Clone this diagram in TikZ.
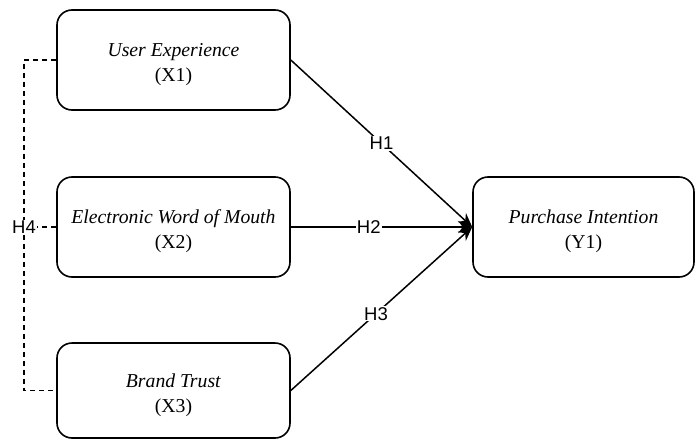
\documentclass[tikz,border=0pt]{standalone}
\usepackage{fontspec}
\setmainfont{Liberation Serif}
\newfontfamily\labelfont{Liberation Sans}
\usetikzlibrary{arrows.meta}
\def\varname#1#2{\rule{0pt}{23pt}\textit{#1}\\(#2)}
\tikzset{
	varbox/.style={draw, line width=1.6pt, rounded corners=15pt, minimum width=233pt, minimum height=100pt, align=center, inner sep=0pt, font=\fontsize{19.7}{25}\selectfont},
	hlabel/.style={fill=white, inner sep=1pt, font=\labelfont\fontsize{18.5}{20}\selectfont},
	path/.style={line width=1.5pt, -{Stealth[length=14pt, width=12pt]}},
	link/.style={line width=1.4pt, dash pattern=on 5pt off 4pt}
}

\begin{document}
\begin{tikzpicture}[x=1pt, y=-1pt]
			%%%%% START %%%%%
			
			\useasboundingbox (0, 0) rectangle (696, 439);
			
			\node[varbox] (ux) at (173.5, 60) {\varname{User Experience}{X1}};
			\node[varbox] (ewom) at (173.5, 227) {\varname{Electronic Word of Mouth}{X2}};
			\node[varbox, minimum height=95pt] (bt) at (173.5, 390.5) {\varname{Brand Trust}{X3}};
			\node[varbox, minimum width=221pt] (pi) at (583.5, 227) {\varname{Purchase Intention}{Y1}};
			
			\coordinate (side) at (24, 227);
			
			\draw[link] (ux.west) -- (ux.west -| side) -- (bt.west -| side) -- (bt.west);
			\draw[link] (ewom.west) -- (side) node[hlabel] {H4};
			
			\draw[path] (ux.east) -- node[hlabel] {H1} (pi.west);
			\draw[path] (ewom.east) -- node[hlabel, pos=0.43] {H2} (pi.west);
			\draw[path] (bt.east) -- node[hlabel, pos=0.47] {H3} (pi.west);
			
			%%%%% END %%%%%
		\end{tikzpicture}
\end{document}
